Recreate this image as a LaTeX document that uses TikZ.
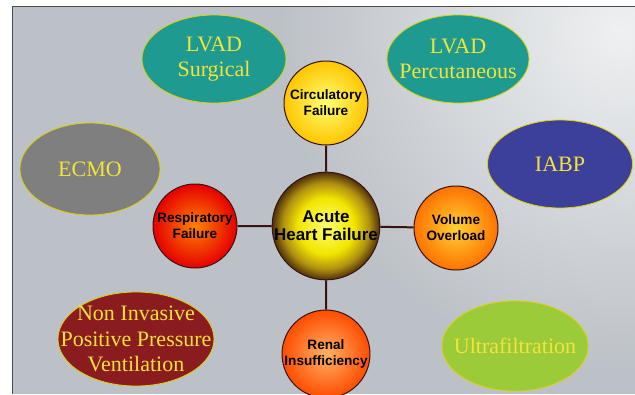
\documentclass[tikz,border=0pt]{standalone}
\usepackage{fontspec}
\setmainfont{Liberation Serif}
\newfontfamily\circfont{Liberation Sans}
\usetikzlibrary{shapes.geometric}
\definecolor{ahfa}{HTML}{FFFF70}
\definecolor{ahfb}{HTML}{F2E600}
\definecolor{ahfc}{HTML}{B09010}
\definecolor{ahfd}{HTML}{4E300A}
\definecolor{bgc}{HTML}{BCC1C7}
\definecolor{bglight}{HTML}{EEF0F1}
\definecolor{ovaltext}{HTML}{F2E43A}
\definecolor{linkc}{HTML}{3A1212}
\definecolor{teal1}{HTML}{1F9A90}
\definecolor{ecmo}{HTML}{7F7F7F}
\definecolor{iabp}{HTML}{3D409A}
\definecolor{nippv}{HTML}{8A1B1E}
\definecolor{ultra}{HTML}{9CCB3A}
\pgfdeclareradialshading{ahfshade}{\pgfpoint{0bp}{0bp}}{color(0bp)=(ahfa); color(13bp)=(ahfb); color(20bp)=(ahfc); color(25bp)=(ahfd); color(50bp)=(ahfd)}
\begin{document}
\begin{tikzpicture}[x=1pt,y=-1pt,
  oval/.style={ellipse, draw=yellow!70!olive, line width=0.8pt, inner sep=0pt},
  ovaltxt/.style={text=ovaltext, align=center, font=\fontsize{22}{25.5}\selectfont, inner sep=0pt},
  ball/.style={circle, minimum size=84pt, inner sep=0pt, draw=linkc, line width=1pt, align=center, font=\circfont\bfseries\fontsize{13.6}{16}\selectfont},
  link/.style={draw=linkc, line width=2pt}
]
\useasboundingbox (0,0) rectangle (635,394);
\fill[white] (0,0) rectangle (635,394);
\fill[bgc] (12,6) rectangle (635,394);
\begin{scope}
\clip (12,6) rectangle (635,394);
\shade[inner color=bglight, outer color=bgc] (620,30) circle (340);
\end{scope}
\draw[gray!60!black, line width=0.8pt] (635,6) -- (12,6) -- (12,394);
% ovals
\node[oval, fill=teal1, minimum width=144pt, minimum height=88pt] (ls) at (214,59) {};
\node[ovaltxt] (lst) at (ls) {LVAD\\Surgical};
\node[oval, fill=teal1, minimum width=142pt, minimum height=88pt] (lp) at (458,59) {};
\node[ovaltxt] (lpt) at (lp) {LVAD\\Percutaneous};
\node[oval, fill=ecmo, minimum width=140pt, minimum height=92pt] (ecmo) at (90,169) {};
\node[ovaltxt] (ecmot) at (ecmo) {ECMO};
\node[oval, fill=iabp, minimum width=145pt, minimum height=88pt] (iabp) at (560,164) {};
\node[ovaltxt] (iabpt) at (iabp) {IABP};
\node[oval, fill=nippv, minimum width=156pt, minimum height=94pt] (nippv) at (136,339) {};
\node[ovaltxt] (nippvt) at (nippv) {Non Invasive\\Positive Pressure\\Ventilation};
\node[oval, fill=ultra, minimum width=146pt, minimum height=90pt] (uf) at (515,346) {};
\node[ovaltxt] (uft) at (uf) {Ultrafiltration};
% circles
\node[ball, shading=ahfshade, minimum size=86pt, font=\circfont\bfseries\fontsize{17}{18}\selectfont] (ahf) at (326,226) {Acute\\Heart Failure};
\node[ball, inner color=yellow!55!white, outer color=orange!45!yellow] (circ) at (326,103) {Circulatory\\Failure};
\node[ball, inner color=orange!45!yellow!80!white, outer color=orange!90!red] (vol) at (456,228) {Volume\\Overload};
\node[ball, inner color=red!40!orange!70!yellow, outer color=red!90!black] (resp) at (195,226) {Respiratory\\Failure};
\node[ball, inner color=orange!60!white, outer color=red!40!orange] (renal) at (326,354) {Renal\\Insufficiency};
\path[link] (ahf) -- (circ) (ahf) -- (vol) (ahf) -- (resp) (ahf) -- (renal);
\end{tikzpicture}
\end{document}
